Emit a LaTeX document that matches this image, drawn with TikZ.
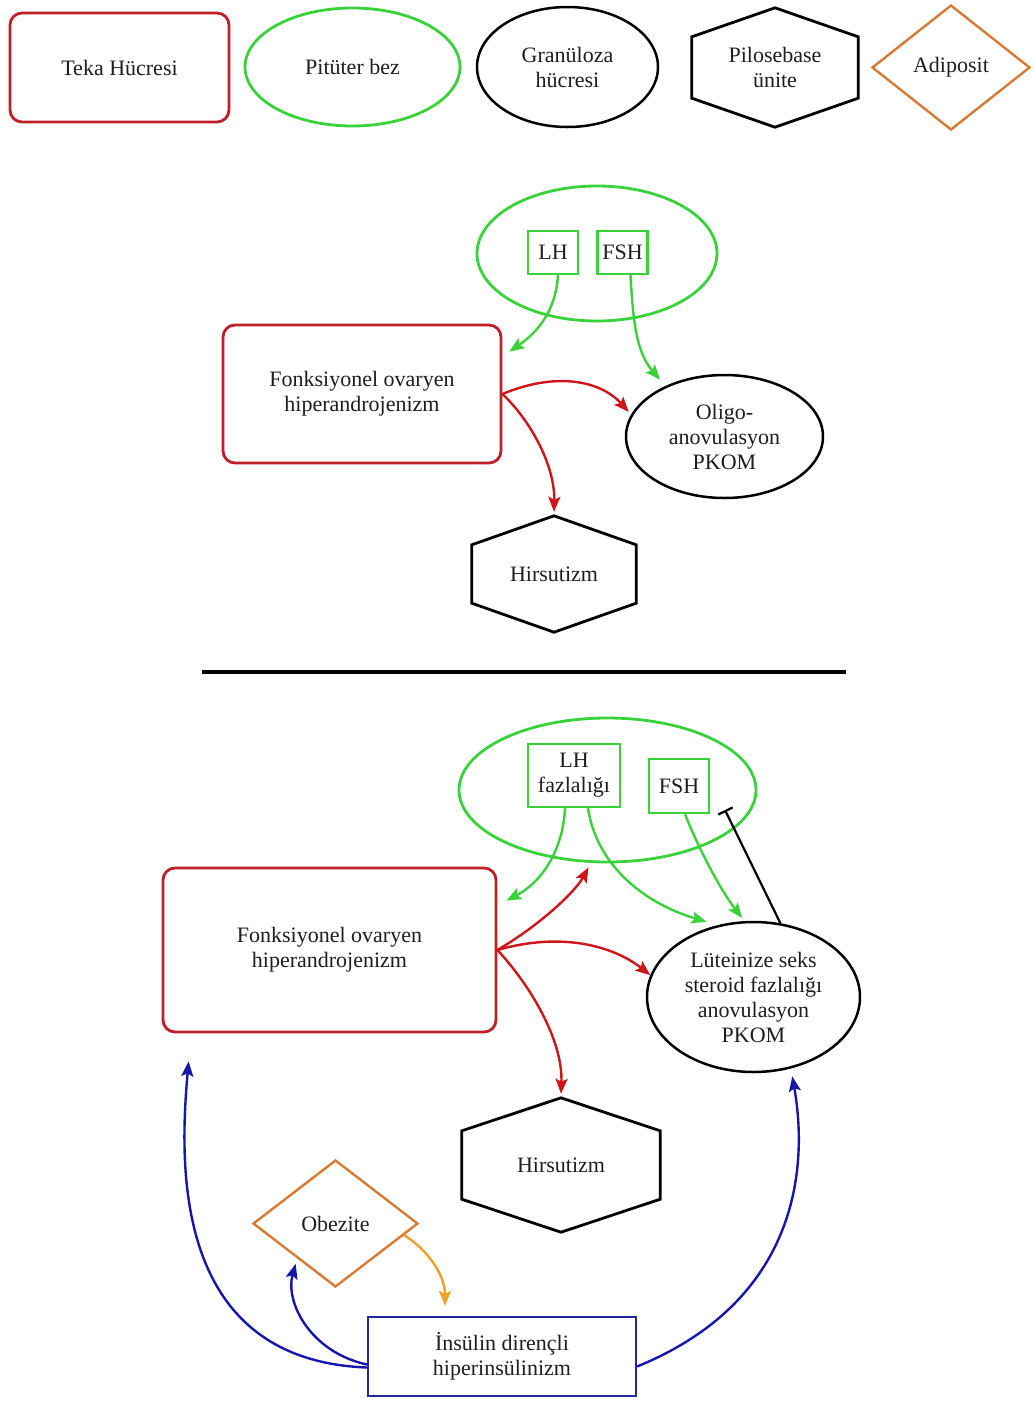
\documentclass[tikz,border=0pt]{standalone}
\usepackage{fontspec}
\setmainfont{Liberation Serif}
\usetikzlibrary{shapes.geometric,arrows.meta,calc}

\definecolor{tekared}{RGB}{190,32,42}
\definecolor{arrred}{RGB}{206,22,26}
\definecolor{pitgreen}{RGB}{58,210,58}
\definecolor{insblue}{RGB}{38,38,160}
\definecolor{arrblue}{RGB}{22,22,172}
\definecolor{adiorange}{RGB}{214,122,52}
\definecolor{arrorange}{RGB}{236,162,42}
\definecolor{txt}{RGB}{30,30,30}

% outline of a hexagon with pointed top and bottom around a (plain) node
\newcommand\hexoutline[2]{%
  \draw[line width=2.8pt, line join=miter]
    (#1.north) -- ([shift={(0,#2)}]#1.north east)
    -- ([shift={(0,-#2)}]#1.south east) -- (#1.south)
    -- ([shift={(0,-#2)}]#1.south west) -- ([shift={(0,#2)}]#1.north west) -- cycle;}

\begin{document}
\begin{tikzpicture}[x=1pt,y=-1pt,
  every node/.style={font=\fontsize{22}{25}\selectfont, text=txt, align=center, inner sep=0pt},
  teka/.style={rectangle, draw=tekared, line width=2.8pt, rounded corners=12pt},
  pit/.style={ellipse, draw=pitgreen, line width=2.8pt},
  hormone/.style={rectangle, draw=pitgreen, line width=2.4pt},
  gran/.style={ellipse, draw=black, line width=2.5pt},
  hexbox/.style={rectangle},
  adip/.style={diamond, draw=adiorange, line width=2.4pt},
  insbox/.style={rectangle, draw=insblue, line width=2.2pt},
  tip/.style={-{Stealth[length=15pt,width=12pt,inset=3pt]}},
  redarr/.style={tip, draw=arrred, line width=2.4pt},
  greenarr/.style={tip, draw=pitgreen, line width=2.4pt},
  bluearr/.style={tip, draw=arrblue, line width=2.4pt},
  orangearr/.style={tip, draw=arrorange, line width=2.4pt},
  inhib/.style={-{Bar[width=16pt]}, draw=black, line width=2.2pt},
]
\fill[white] (0,0) rectangle (1034,1401);
\useasboundingbox (0,0) rectangle (1034,1401);

% ---------- legend ----------
\node[teka, minimum width=219pt, minimum height=109pt] (lgTeka) at (119.5,67.5) {Teka Hücresi};
\node[pit, minimum width=215pt, minimum height=118pt] (lgPit) at (352.5,67) {Pitüter bez};
\node[gran, minimum width=181pt, minimum height=120pt] (lgGran) at (567.5,67) {Granüloza\\hücresi};
\node[hexbox, minimum width=166pt, minimum height=119pt] (lgHex) at (775,67.5) {Pilosebase\\ünite};
\hexoutline{lgHex}{29}
\node[adip, minimum width=158pt, minimum height=125pt] (lgAdi) at (951,67.5) {Adiposit};

% ---------- upper scheme ----------
\node[pit, minimum width=240pt, minimum height=135pt] (pit1) at (597,253.5) {};
\node[hormone, minimum width=50pt, minimum height=43pt] (lh1) at (553,252.5) {LH};
\node[hormone, minimum width=50pt, minimum height=43pt] (fsh1) at (622.5,252.5) {FSH};
\node[teka, minimum width=278pt, minimum height=138pt] (fr1) at (362,394) {Fonksiyonel ovaryen\\hiperandrojenizm};
\node[gran, minimum width=197pt, minimum height=123pt] (oli) at (724.5,436.5) {Oligo-\\anovulasyon\\PKOM};
\node[hexbox, minimum width=164pt, minimum height=116pt] (hx1) at (554,574) {Hirsutizm};
\hexoutline{hx1}{29}

\draw[greenarr] ([shift={(5,0)}]lh1.south) .. controls (556,310) and (538,332) .. ([shift={(7,28)}]fr1.north east);
\draw[greenarr] ([shift={(8,0)}]fsh1.south) .. controls (633,320) and (636,352) .. ([shift={(-6,-6)}]oli.139);
\draw[redarr] (fr1.east) .. controls (555,372) and (600,380) .. ([shift={(-4,0)}]oli.165);
\draw[redarr] (fr1.east) .. controls (530,420) and (555,465) .. ([shift={(0,-4)}]hx1.north);

% divider
\draw[line width=4.5pt] (202,672) -- (846,672);

% ---------- lower scheme ----------
\node[pit, minimum width=297pt, minimum height=144pt] (pit2) at (607.5,790) {};
\node[hormone, minimum width=92pt, minimum height=63pt] (lh2) at (574,775.5) {LH\\fazlalığı};
\node[hormone, minimum width=60pt, minimum height=54pt] (fsh2) at (679,786) {FSH};
\node[teka, minimum width=333pt, minimum height=164pt] (fr2) at (329.5,950) {Fonksiyonel ovaryen\\hiperandrojenizm};
\node[gran, minimum width=213pt, minimum height=150pt] (lut) at (753.5,997) {Lüteinize seks\\steroid fazlalığı\\anovulasyon\\PKOM};
\node[hexbox, minimum width=198pt, minimum height=134pt] (hx2) at (561,1165) {Hirsutizm};
\hexoutline{hx2}{33}
\node[adip, minimum width=165pt, minimum height=127pt] (ob) at (335.5,1223.5) {Obezite};
\node[insbox, minimum width=268pt, minimum height=79pt] (ins) at (502,1356.5) {İnsülin dirençli\\hiperinsülinizm};
\coordinate (inh) at (725,810);

\draw[greenarr] ([shift={(-9,0)}]lh2.south) .. controls (563,850) and (542,882) .. ([shift={(9,34)}]fr2.north east);
\draw[greenarr] ([shift={(14,0)}]lh2.south) .. controls (596,862) and (640,902) .. ([shift={(-2,-6)}]lut.123);
\draw[greenarr] ([shift={(6,0)}]fsh2.south) .. controls (700,852) and (722,892) .. ([shift={(-2,-3)}]lut.97);
\draw[inhib] (lut.70) -- (inh);
\draw[redarr] (fr2.east) .. controls (540,925) and (575,892) .. ([shift={(-19,4)}]pit2.south);
\draw[redarr] (fr2.east) .. controls (560,932) and (612,945) .. (lut.168);
\draw[redarr] (fr2.east) .. controls (530,985) and (563,1040) .. ([shift={(0,-4)}]hx2.north);

\draw[bluearr] ([shift={(0,11)}]ins.west) .. controls (170,1360) and (180,1160) .. ([shift={(27,28)}]fr2.south west);
\draw[bluearr] ([shift={(0,8)}]ins.west) .. controls (310,1352) and (285,1302) .. ([shift={(2,8)}]ob.south west);
\draw[orangearr] ($(ob.east)!0.18!(ob.south)$) .. controls (428,1250) and (445,1275) .. ([shift={(-57,-10)}]ins.north);
\draw[bluearr] ([shift={(0,10)}]ins.east) .. controls (800,1300) and (808,1165) .. ([shift={(5,7)}]lut.-65);
\end{tikzpicture}
\end{document}
